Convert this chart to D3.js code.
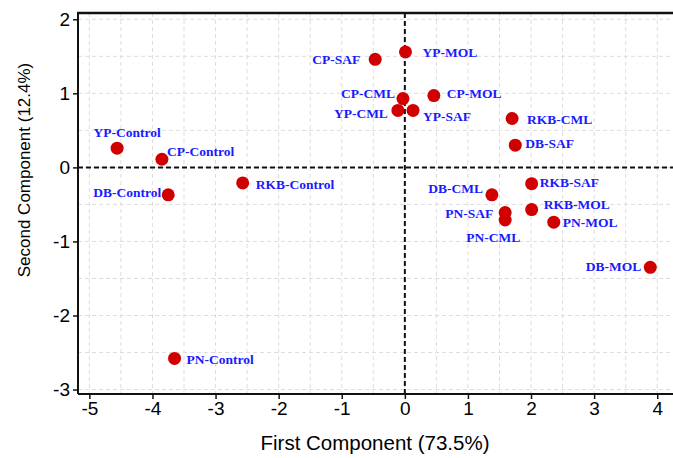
<!DOCTYPE html>
<html>
<head>
<meta charset="utf-8">
<script src="https://d3js.org/d3.v7.min.js"></script>
<style>
    body, html { margin: 0; padding: 0; background: #ffffff; }
    .tick text { font-family: "Liberation Sans", Arial, sans-serif; font-size: 19px; fill: #000; }
    .axisTitle { font-family: "Liberation Sans", Arial, sans-serif; fill: #000; }
    .ptLabel { font-family: "Liberation Serif", "Times New Roman", serif; font-weight: bold; font-size: 13.5px; fill: #1a1aff; }
</style>
</head>
<body>
<div id="chart"></div>
<script>

// sample names and PCA scores
const samples = ["YP-Control", "CP-Control", "DB-Control", "RKB-Control", "PN-Control",
    "CP-SAF", "YP-MOL", "CP-CML", "YP-CML", "YP-SAF", "CP-MOL", "RKB-CML", "DB-SAF",
    "DB-CML", "RKB-SAF", "RKB-MOL", "PN-SAF", "PN-CML", "PN-MOL", "DB-MOL"];
const pc1 = [-4.56, -3.85, -3.75, -2.57, -3.65,
    -0.47, 0.01, -0.03, -0.11, 0.13, 0.46, 1.70, 1.75,
    1.38, 2.01, 2.01, 1.59, 1.59, 2.36, 3.89];
const pc2 = [0.26, 0.11, -0.37, -0.21, -2.58,
    1.46, 1.56, 0.93, 0.77, 0.77, 0.97, 0.66, 0.30,
    -0.37, -0.22, -0.57, -0.61, -0.71, -0.74, -1.35];

const xTicks = [-5, -4, -3, -2, -1, 0, 1, 2, 3, 4];
const yTicks = [-3, -2, -1, 0, 1, 2];

const xTitle = "First Component (73.5%)";
const yTitle = "Second Component (12.4%)";

// where each label sits next to its point: [anchor, dx, dy]
const labelPlace = {
    "YP-Control": ["middle", 10, -11], "CP-Control": ["start", 5, -3],
    "DB-Control": ["end", -7, 2], "RKB-Control": ["start", 13, 6],
    "PN-Control": ["start", 12, 6], "CP-SAF": ["end", -15, 5],
    "YP-MOL": ["start", 17, 5], "CP-CML": ["end", -8, -1],
    "YP-CML": ["end", -10, 8], "YP-SAF": ["start", 10, 11],
    "CP-MOL": ["start", 13, 2], "RKB-CML": ["start", 15, 5],
    "DB-SAF": ["start", 10, 3], "DB-CML": ["end", -9, -2],
    "RKB-SAF": ["start", 8, 3], "RKB-MOL": ["start", 12, -1],
    "PN-SAF": ["end", -12, 5], "PN-CML": ["middle", -12, 22],
    "PN-MOL": ["start", 9, 5], "DB-MOL": ["end", -9, 4]
};

const data = samples.map((s, i) => ({name: s, x: pc1[i], y: pc2[i]}));

const width = 673, height = 458;
const margin = {top: 13, left: 78, right: 0, bottom: 64};

const svg = d3.select("#chart").append("svg")
    .attr("width", width)
    .attr("height", height);

const xScale = d3.scaleLinear()
    .domain([-5.18, 4.25])
    .range([margin.left, width - margin.right]);

const yScale = d3.scaleLinear()
    .domain([-3.06, 2.085])
    .range([height - margin.bottom, margin.top]);

/* background grid, every half unit */
const grid = svg.append("g");
d3.range(-5, 4.01, 0.5).forEach(v => {
    grid.append("line")
        .attr("x1", xScale(v)).attr("x2", xScale(v))
        .attr("y1", margin.top).attr("y2", height - margin.bottom)
        .attr("stroke", "#dddddd").attr("stroke-width", 1)
        .attr("stroke-dasharray", "4 3");
});
d3.range(-3, 2.01, 0.5).forEach(v => {
    grid.append("line")
        .attr("x1", margin.left).attr("x2", width)
        .attr("y1", yScale(v)).attr("y2", yScale(v))
        .attr("stroke", "#dddddd").attr("stroke-width", 1)
        .attr("stroke-dasharray", "4 3");
});

/* zero reference lines */
svg.append("line")
    .attr("x1", xScale(0)).attr("x2", xScale(0))
    .attr("y1", margin.top).attr("y2", height - margin.bottom)
    .attr("stroke", "#111").attr("stroke-width", 2)
    .attr("stroke-dasharray", "5 3");
svg.append("line")
    .attr("x1", margin.left).attr("x2", width)
    .attr("y1", yScale(0)).attr("y2", yScale(0))
    .attr("stroke", "#111").attr("stroke-width", 2)
    .attr("stroke-dasharray", "5 3");

/* axes, plain hyphen for negatives as in the original */
const fmt = d => String(d);
const xAxis = svg.append("g")
    .attr("transform", `translate(0,${height - margin.bottom})`)
    .call(d3.axisBottom(xScale).tickValues(xTicks).tickFormat(fmt).tickSize(5).tickPadding(3).tickSizeOuter(0));
const yAxis = svg.append("g")
    .attr("transform", `translate(${margin.left},0)`)
    .call(d3.axisLeft(yScale).tickValues(yTicks).tickFormat(fmt).tickSize(5).tickPadding(3).tickSizeOuter(0));

[xAxis, yAxis].forEach(a => {
    a.select(".domain").attr("stroke", "#111").attr("stroke-width", 2);
    a.selectAll(".tick line").attr("stroke", "#111").attr("stroke-width", 1.5);
});
xAxis.select(".domain").attr("d", `M${margin.left},0H${width}`);
yAxis.select(".domain").attr("d", `M0,${margin.top}V${height - margin.bottom}`);

/* top border */
svg.append("line")
    .attr("x1", margin.left - 1).attr("x2", width)
    .attr("y1", margin.top).attr("y2", margin.top)
    .attr("stroke", "#111").attr("stroke-width", 2.5);

/* axis titles */
svg.append("text")
    .attr("class", "axisTitle")
    .attr("x", 375)
    .attr("y", 450)
    .attr("font-size", 20.5)
    .attr("text-anchor", "middle")
    .text(xTitle);

svg.append("text")
    .attr("class", "axisTitle")
    .attr("transform", "translate(30,170) rotate(-90)")
    .attr("font-size", 17)
    .attr("text-anchor", "middle")
    .text(yTitle);

/* points */
svg.append("g").selectAll("circle")
    .data(data)
    .enter()
    .append("circle")
        .attr("cx", d => xScale(d.x))
        .attr("cy", d => yScale(d.y))
        .attr("r", 6.5)
        .attr("fill", "#d10000");

/* labels */
svg.append("g").selectAll("text")
    .data(data)
    .enter()
    .append("text")
        .attr("class", "ptLabel")
        .attr("x", d => xScale(d.x) + labelPlace[d.name][1])
        .attr("y", d => yScale(d.y) + labelPlace[d.name][2])
        .attr("text-anchor", d => labelPlace[d.name][0])
        .text(d => d.name);

</script>
</body>
</html>
